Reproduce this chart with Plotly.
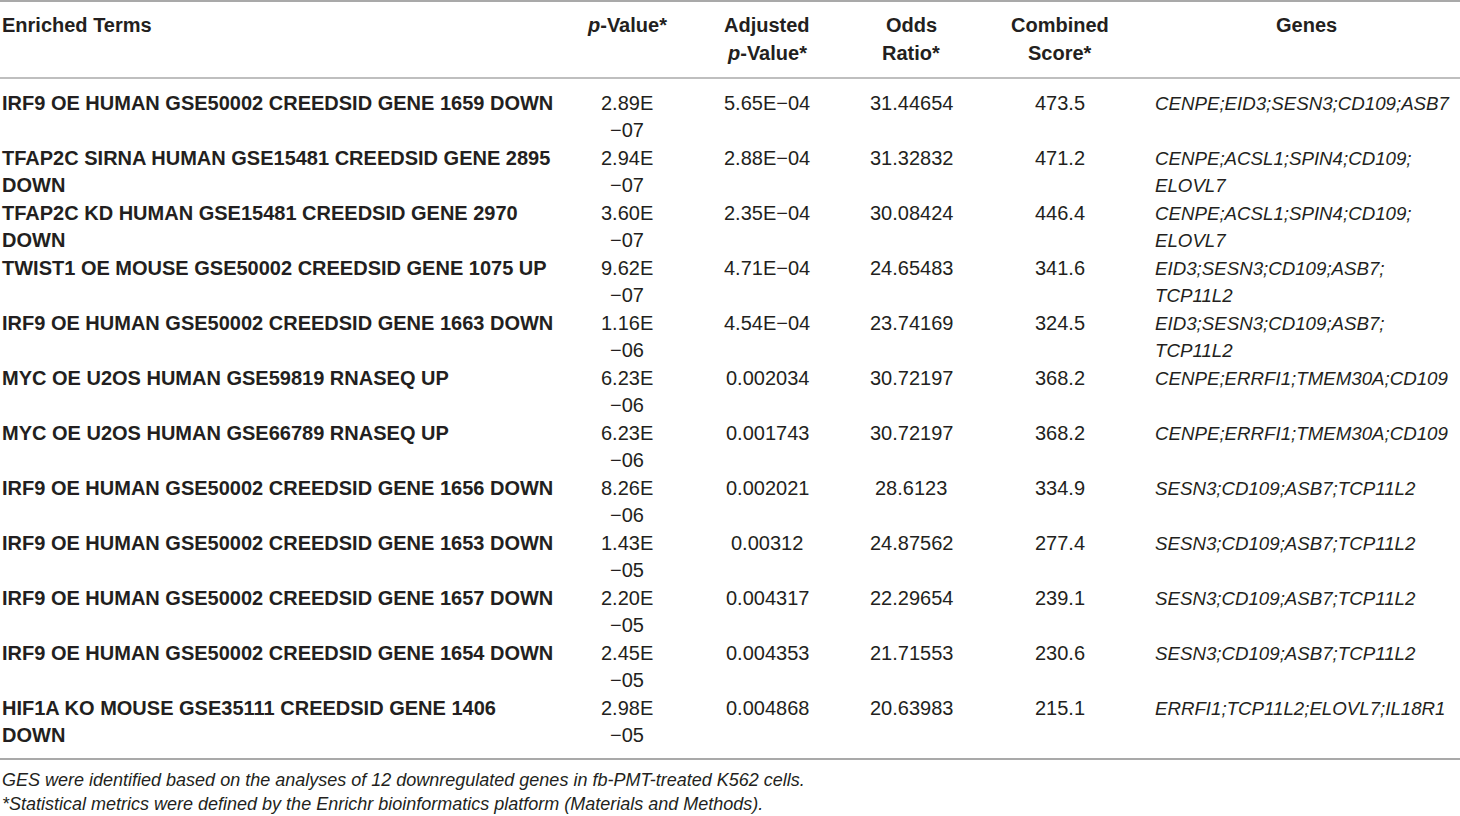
import plotly.graph_objects as go

# ---------------- data ----------------
terms = [
    "IRF9 OE HUMAN GSE50002 CREEDSID GENE 1659 DOWN",
    "TFAP2C SIRNA HUMAN GSE15481 CREEDSID GENE 2895 DOWN",
    "TFAP2C KD HUMAN GSE15481 CREEDSID GENE 2970 DOWN",
    "TWIST1 OE MOUSE GSE50002 CREEDSID GENE 1075 UP",
    "IRF9 OE HUMAN GSE50002 CREEDSID GENE 1663 DOWN",
    "MYC OE U2OS HUMAN GSE59819 RNASEQ UP",
    "MYC OE U2OS HUMAN GSE66789 RNASEQ UP",
    "IRF9 OE HUMAN GSE50002 CREEDSID GENE 1656 DOWN",
    "IRF9 OE HUMAN GSE50002 CREEDSID GENE 1653 DOWN",
    "IRF9 OE HUMAN GSE50002 CREEDSID GENE 1657 DOWN",
    "IRF9 OE HUMAN GSE50002 CREEDSID GENE 1654 DOWN",
    "HIF1A KO MOUSE GSE35111 CREEDSID GENE 1406 DOWN",
]
p_values = ["2.89E\u221207", "2.94E\u221207", "3.60E\u221207", "9.62E\u221207",
            "1.16E\u221206", "6.23E\u221206", "6.23E\u221206", "8.26E\u221206",
            "1.43E\u221205", "2.20E\u221205", "2.45E\u221205", "2.98E\u221205"]
adj_p_values = ["5.65E\u221204", "2.88E\u221204", "2.35E\u221204", "4.71E\u221204",
                "4.54E\u221204", "0.002034", "0.001743", "0.002021",
                "0.00312", "0.004317", "0.004353", "0.004868"]
odds_ratios = ["31.44654", "31.32832", "30.08424", "24.65483", "23.74169", "30.72197",
               "30.72197", "28.6123", "24.87562", "22.29654", "21.71553", "20.63983"]
combined_scores = [473.5, 471.2, 446.4, 341.6, 324.5, 368.2,
                   368.2, 334.9, 277.4, 239.1, 230.6, 215.1]
genes = [
    "CENPE;EID3;SESN3;CD109;ASB7",
    "CENPE;ACSL1;SPIN4;CD109;ELOVL7",
    "CENPE;ACSL1;SPIN4;CD109;ELOVL7",
    "EID3;SESN3;CD109;ASB7;TCP11L2",
    "EID3;SESN3;CD109;ASB7;TCP11L2",
    "CENPE;ERRFI1;TMEM30A;CD109",
    "CENPE;ERRFI1;TMEM30A;CD109",
    "SESN3;CD109;ASB7;TCP11L2",
    "SESN3;CD109;ASB7;TCP11L2",
    "SESN3;CD109;ASB7;TCP11L2",
    "SESN3;CD109;ASB7;TCP11L2",
    "ERRFI1;TCP11L2;ELOVL7;IL18R1",
]
footnotes = [
    "GES were identified based on the analyses of 12 downregulated genes in fb-PMT-treated K562 cells.",
    "*Statistical metrics were defined by the Enrichr bioinformatics platform (Materials and Methods).",
]

# ---------------- styling / layout ----------------
W, H = 1460, 816
FONT = "Liberation Sans"
TXT = "#231f20"
FS = 20
FS_GENES = 18.7
FS_NOTE = 18
RULE = "#8c8c8c"

X_TERM = 0
X_P = 627
X_ADJ = 767
X_ODDS = 911
X_COMB = 1060
X_GENES = 1153
X_GENES_HDR = 1306

Y_HDR1, Y_HDR2 = 25, 53
Y_ROW0 = 103
ROW_PITCH = 55
LINE_PITCH = 27

# approximate Arial-bold advance widths (per 1000 em) for wrapping the terms
_BW = {" ": 278, "I": 278, "1": 556, "J": 556, "L": 611, "F": 611, "E": 667,
       "S": 667, "P": 667, "B": 722, "O": 778, "G": 778, "Q": 778, "M": 833, "W": 944}


def bold_width(s, size=FS):
    tot = 0
    for ch in s:
        if ch.isdigit():
            tot += 556
        else:
            tot += _BW.get(ch, 722)
    return tot * size / 1000.0


def wrap_words(text, max_px):
    words = text.split(" ")
    lines, cur = [], ""
    for w in words:
        cand = w if not cur else cur + " " + w
        if bold_width(cand) <= max_px:
            cur = cand
        else:
            lines.append(cur)
            cur = w
    lines.append(cur)
    return lines


def wrap_genes(text, max_chars=28):
    parts = text.split(";")
    lines, cur = [], ""
    for i, p in enumerate(parts):
        tok = p + (";" if i < len(parts) - 1 else "")
        if len(cur + tok) <= max_chars or not cur:
            cur += tok
        else:
            lines.append(cur)
            cur = tok
    lines.append(cur)
    return lines


annotations = []


def add(x, y, text, anchor="left", size=FS):
    annotations.append(dict(
        x=x, y=y, xref="x", yref="y", text=text, showarrow=False,
        xanchor=anchor, yanchor="middle", align=anchor,
        font=dict(family=FONT, size=size, color=TXT),
    ))


# header
add(X_TERM, Y_HDR1, "<b>Enriched Terms</b>")
add(X_P, Y_HDR1, "<b><i>p</i>-Value*</b>", "center")
add(X_ADJ, Y_HDR1, "<b>Adjusted</b>", "center")
add(X_ADJ, Y_HDR2, "<b><i>p</i>-Value*</b>", "center")
add(X_ODDS, Y_HDR1, "<b>Odds</b>", "center")
add(X_ODDS, Y_HDR2, "<b>Ratio*</b>", "center")
add(X_COMB, Y_HDR1, "<b>Combined</b>", "center")
add(X_COMB, Y_HDR2, "<b>Score*</b>", "center")
add(X_GENES_HDR, Y_HDR1, "<b>Genes</b>", "center")

# body rows
for i in range(len(terms)):
    y0 = Y_ROW0 + i * ROW_PITCH
    for j, line in enumerate(wrap_words(terms[i], 565)):
        add(X_TERM, y0 + j * LINE_PITCH, "<b>" + line + "</b>")
    mant, expo = p_values[i].split("E")
    add(X_P, y0, mant + "E", "center")
    add(X_P, y0 + LINE_PITCH, expo, "center")
    add(X_ADJ, y0, adj_p_values[i], "center")
    add(X_ODDS, y0, odds_ratios[i], "center")
    add(X_COMB, y0, f"{combined_scores[i]:.1f}", "center")
    for j, line in enumerate(wrap_genes(genes[i])):
        add(X_GENES, y0 + j * LINE_PITCH, "<i>" + line + "</i>", size=FS_GENES)

# footnotes
for k, note in enumerate(footnotes):
    add(0, 780 + k * 24, "<i>" + note + "</i>", size=FS_NOTE)

shapes = [
    dict(type="line", xref="x", yref="y", x0=0, x1=W, y0=1, y1=1,
         line=dict(color=RULE, width=1.5)),
    dict(type="line", xref="x", yref="y", x0=0, x1=W, y0=78, y1=78,
         line=dict(color="#aaaaaa", width=1.5)),
    dict(type="line", xref="x", yref="y", x0=0, x1=W, y0=759, y1=759,
         line=dict(color=RULE, width=1.5)),
]

fig = go.Figure(go.Scatter(x=[], y=[], mode="markers", showlegend=False, hoverinfo="skip"))
fig.update_layout(
    width=W, height=H,
    margin=dict(l=0, r=0, t=0, b=0),
    paper_bgcolor="white", plot_bgcolor="white",
    # axis coordinates equal page pixels of the 1460x816 window
    xaxis=dict(range=[0, W], visible=False, fixedrange=True),
    yaxis=dict(range=[H, 0], visible=False, fixedrange=True),
    annotations=annotations,
    shapes=shapes,
    showlegend=False,
)
fig.write_html(
    "out.html",
    config={"displayModeBar": False},
    post_script="document.body.style.margin='0';document.body.style.overflow='hidden';",
)
